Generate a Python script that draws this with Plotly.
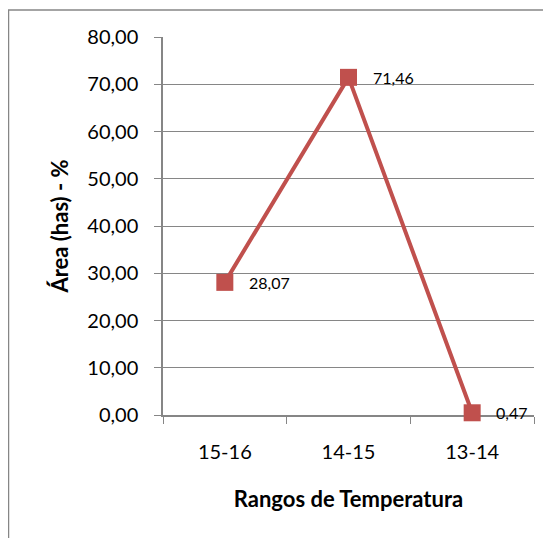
import plotly.graph_objects as go

rangos = ['15-16', '14-15', '13-14']
area_pct = [28.07, 71.46, 0.47]
y_ticks = [0, 10, 20, 30, 40, 50, 60, 70, 80]

rojo = '#C0504D'
gris = '#868686'
fuente = 'Lato'

fig = go.Figure(go.Scatter(
    x=rangos,
    y=area_pct,
    mode='lines+markers',
    line=dict(color=rojo, width=4),
    marker=dict(symbol='square', size=17, color=rojo),
    cliponaxis=False,
    showlegend=False,
))

# etiquetas de datos a la derecha de cada punto
for r, v in zip(rangos, area_pct):
    fig.add_annotation(
        x=r, y=v, text=f'{v:.2f}'.replace('.', ','),
        showarrow=False, xanchor='left', yanchor='middle', xshift=22,
        font=dict(family=fuente, size=16, color='#000000'),
    )

# borde del grafico (recortado a la derecha y abajo)
fig.add_shape(
    type='rect', xref='paper', yref='paper',
    x0=(8.5 - 163) / 371, x1=1.2, y0=-0.4, y1=(415 - 10) / 378,
    line=dict(color=gris, width=1.5), fillcolor='rgba(0,0,0,0)',
    layer='below',
)

# la pagina deja 8px de margen en el body
fig.update_layout(
    width=543, height=530,
    margin=dict(l=155, r=17, t=29, b=123),
    paper_bgcolor='white', plot_bgcolor='white',
    separators=',.',
    font=dict(family=fuente, size=20, color='#000000'),
)
fig.update_xaxes(
    type='category', range=[-0.5, 2.5], automargin=False,
    tickson='boundaries', ticks='outside', ticklen=7, tickcolor=gris,
    showline=True, linecolor=gris, linewidth=1.5,
    showgrid=False, layer='below traces',
    ticklabelstandoff=18,
    tickfont=dict(size=20),
    title=dict(text='<b>Rangos de Temperatura</b>', font=dict(size=22), standoff=30),
)
fig.update_yaxes(
    range=[0, 80], tickvals=y_ticks, tickformat='.2f', automargin=False,
    ticks='outside', ticklen=7, tickcolor=gris,
    showline=True, linecolor=gris, linewidth=1.5,
    showgrid=True, gridcolor=gris, gridwidth=1.3,
    zeroline=False, layer='below traces',
    ticklabelstandoff=12,
    tickfont=dict(size=20),
    title=dict(text='<b>Área (has) - %</b>', font=dict(size=22), standoff=13),
)

fig.write_html('out.html')
